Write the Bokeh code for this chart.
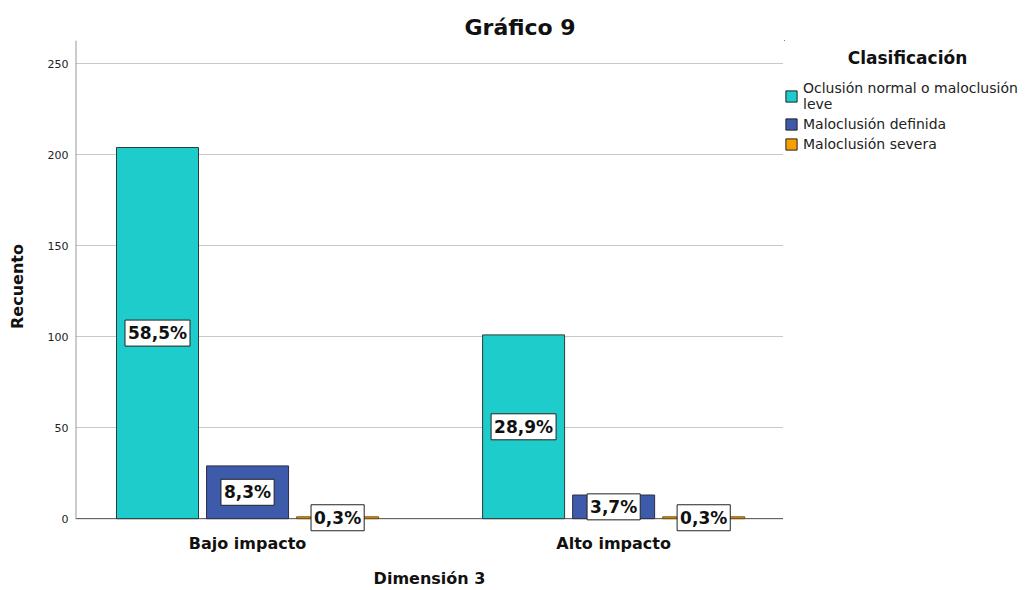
from bokeh.plotting import figure
from bokeh.layouts import row
from bokeh.models import (ColumnDataSource, Range1d, FixedTicker, Legend, LegendItem, Label, Span)
from bokeh.core.properties import value
from bokeh.embed import file_html
from bokeh.resources import INLINE

# ---- data ----
groups = ["Bajo impacto", "Alto impacto"]
series = ["Oclusión normal o maloclusión\nleve", "Maloclusión definida", "Maloclusión severa"]
oclusion_normal = [204, 101]
maloclusion_definida = [29, 13]
maloclusion_severa = [1, 1]
pct_normal = ["58,5%", "28,9%"]
pct_definida = ["8,3%", "3,7%"]
pct_severa = ["0,3%", "0,3%"]
y_ticks = [0, 50, 100, 150, 200, 250]

colors = ["#1ECDCB", "#3D5AAB", "#F5A000"]
outlines = ["#2E3B3B", "#2A2F45", "#6B4A10"]
offsets = [-0.246, 0.0, 0.246]
bar_w = 0.224
FONT = "DejaVu Sans"
X0, X1 = -0.470, 1.464
Y0, Y1 = -7.6, 262.8
TOP, BOTTOM = 40, 52

p = figure(width=783, height=590, output_backend="svg", toolbar_location=None,
           x_range=Range1d(X0, X1), y_range=Range1d(Y0, Y1),
           min_border_left=75, min_border_right=0, min_border_top=TOP, min_border_bottom=BOTTOM)

p.title.text = "Gráfico 9"
p.title.align = "left"
p.title.text_font = FONT
p.title.text_font_size = "22px"
p.title.text_font_style = "bold"
p.title.text_color = "#111111"
p.title.offset = 389
p.title.standoff = 2

p.outline_line_color = None
p.background_fill_color = "white"
p.border_fill_color = "white"

# x axis
p.xaxis.ticker = FixedTicker(ticks=[0, 1])
p.xaxis.major_label_overrides = {0: groups[0], 1: groups[1]}
p.xaxis.major_tick_line_color = None
p.xaxis.major_tick_out = 0
p.xaxis.major_tick_in = 0
p.xaxis.minor_tick_line_color = None
p.xaxis.axis_line_color = None
p.xaxis.major_label_text_font = FONT
p.xaxis.major_label_text_font_size = "16px"
p.xaxis.major_label_text_font_style = "bold"
p.xaxis.major_label_text_color = "#111111"
p.xaxis.major_label_standoff = 1
p.xaxis.axis_label = "Dimensión 3"
p.xaxis.axis_label_text_font = FONT
p.xaxis.axis_label_text_font_size = "16px"
p.xaxis.axis_label_text_font_style = "bold"
p.xaxis.axis_label_text_color = "#111111"
p.xaxis.axis_label_standoff = 13

# y axis
p.yaxis.ticker = FixedTicker(ticks=y_ticks)
p.yaxis.major_tick_line_color = None
p.yaxis.major_tick_out = 0
p.yaxis.major_tick_in = 0
p.yaxis.minor_tick_line_color = None
p.yaxis.axis_line_color = None
p.yaxis.major_label_text_font = FONT
p.yaxis.major_label_text_font_size = "11px"
p.yaxis.major_label_text_color = "#222222"
p.yaxis.major_label_standoff = 7
p.yaxis.axis_label = "Recuento"
p.yaxis.axis_label_text_font = FONT
p.yaxis.axis_label_text_font_size = "16px"
p.yaxis.axis_label_text_font_style = "bold"
p.yaxis.axis_label_text_color = "#111111"
p.yaxis.axis_label_standoff = 18

p.xgrid.grid_line_color = None
p.ygrid.grid_line_color = "#C8C8C8"
p.ygrid.grid_line_width = 1

# y axis line (from 0 to top) and baseline at 0
p.segment(x0=[X0], y0=[0], x1=[X0], y1=[Y1], line_color="#9A9A9A", line_width=2)
p.add_layout(Span(location=0, dimension="width", line_color="#555555", line_width=1, level="underlay"))

vals = [oclusion_normal, maloclusion_definida, maloclusion_severa]
pcts = [pct_normal, pct_definida, pct_severa]
for i in range(3):
    src = ColumnDataSource(dict(
        x=[g + offsets[i] for g in range(len(groups))],
        top=vals[i],
    ))
    p.vbar(x="x", top="top", width=bar_w, source=src, fill_color=colors[i],
           line_color=outlines[i], line_width=1)
for i in range(3):
    src = ColumnDataSource(dict(
        x=[g + offsets[i] for g in range(len(groups))],
        mid=[v / 2 for v in vals[i]],
        lab=pcts[i],
    ))
    p.text(x="x", y="mid", text="lab", source=src, text_align="center", text_baseline="middle",
           text_font=value(FONT), text_font_size="17px", text_font_style="bold", text_color="#111111",
           background_fill_color="white", border_line_color="#222222", border_line_width=1,
           padding=3)

# ---- legend panel (frame aligned with the main plot's frame) ----
FRAME_H = 590 - TOP - BOTTOM
q = figure(width=245, height=590, output_backend="svg", toolbar_location=None,
           x_range=Range1d(0, 244), y_range=Range1d(FRAME_H, 0),
           x_axis_type=None, y_axis_type=None,
           min_border_left=1, min_border_right=0, min_border_top=TOP, min_border_bottom=BOTTOM)
q.outline_line_color = None
q.xgrid.grid_line_color = None
q.ygrid.grid_line_color = None
# legend swatches: placeholder renderers kept fully outside the visible range
dummy = [q.vbar(x=[-1000], top=[-1000], bottom=[-1010], width=1, fill_color=colors[i],
                line_color="#222222", line_width=1)
         for i in range(3)]
legend = Legend(items=[LegendItem(label=series[i], renderers=[dummy[i]]) for i in range(3)],
                location=(0, 380), margin=0, padding=0, spacing=3,
                border_line_color=None, background_fill_alpha=0,
                glyph_width=14, glyph_height=14, label_standoff=5,
                label_text_font=FONT, label_text_font_size="14px", label_text_color="#222222",
                label_height=17)
q.add_layout(legend, "center")
q.add_layout(Label(x=123, y=18, text="Clasificación",
                   text_align="center", text_baseline="middle", text_font=FONT,
                   text_font_size="17px", text_font_style="bold", text_color="#111111"))

open("out.html", "w").write(file_html(row(p, q), INLINE))
